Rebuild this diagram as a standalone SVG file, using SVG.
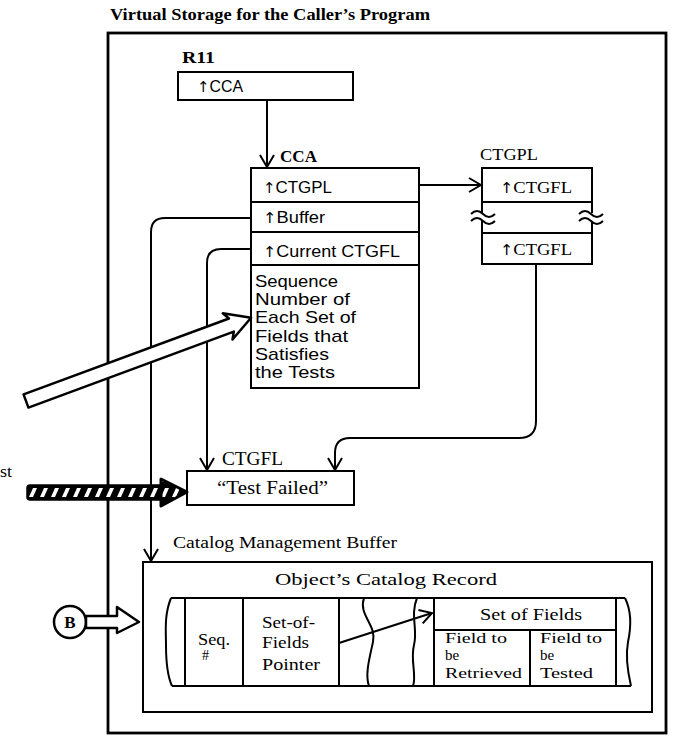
<svg xmlns="http://www.w3.org/2000/svg" width="677" height="738" viewBox="0 0 677 738">
<style>
.box{fill:#fff;stroke:#000;stroke-width:2}
.ln{fill:none;stroke:#000;stroke-width:2}
.serif{font-family:"Liberation Serif","Times New Roman",serif;fill:#000}
.sans{font-family:"Liberation Sans",Arial,sans-serif;fill:#000}
.b{font-weight:bold}
.up{font-family:"DejaVu Sans",sans-serif;font-size:15px}
</style>
<defs>
<marker id="arr" viewBox="0 0 14 16" refX="13" refY="8" markerWidth="14" markerHeight="16" markerUnits="userSpaceOnUse" orient="auto">
<path d="M1,1 L13,8 L1,15" fill="none" stroke="#000" stroke-width="2"/>
</marker>
<pattern id="hatch" patternUnits="userSpaceOnUse" x="27" y="485" width="11" height="15">
<rect width="11" height="15" fill="#000"/>
<polygon points="6,3 10,3 6,12 2,12" fill="#fff"/>
</pattern>
</defs>
<rect width="677" height="738" fill="#fff"/>

<text class="serif b" x="110" y="20" font-size="17.5" textLength="320" lengthAdjust="spacingAndGlyphs">Virtual Storage for the Caller’s Program</text>
<text class="serif" x="0" y="477" font-size="17" textLength="12" lengthAdjust="spacingAndGlyphs">st</text>

<g id="frame"><rect x="108" y="33" width="558" height="700" fill="none" stroke="#000" stroke-width="2.8"/></g>

<g id="connectors">
<path class="ln" d="M267,100 V167" marker-end="url(#arr)"/>
<path class="ln" d="M419,185 H481" marker-end="url(#arr)"/>
<path class="ln" d="M536,264 V421 Q536,438 519,438 H350 Q335,438 335,453 V470" marker-end="url(#arr)"/>
<path class="ln" d="M251,249 H221 Q207,249 207,263 V470" marker-end="url(#arr)"/>
<path class="ln" d="M251,218 H165 Q151,218 151,232 V561" marker-end="url(#arr)"/>
</g>

<g id="R11">
<text class="serif b" x="182" y="63" font-size="16.5" textLength="33" lengthAdjust="spacingAndGlyphs">R11</text>
<rect class="box" x="178" y="72" width="175" height="28"/>
<text class="sans" x="197" y="92" font-size="16" textLength="46" lengthAdjust="spacingAndGlyphs"><tspan class="up">↑</tspan>CCA</text>
</g>

<g id="CCA">
<text class="serif b" x="280" y="162" font-size="16.5" textLength="37" lengthAdjust="spacingAndGlyphs">CCA</text>
<rect class="box" x="251" y="168" width="168" height="220"/>
<path class="ln" d="M251,202 H419 M251,232 H419 M251,265 H419"/>
<text class="sans" x="263" y="193" font-size="17" textLength="69" lengthAdjust="spacingAndGlyphs"><tspan class="up">↑</tspan>CTGPL</text>
<text class="sans" x="263" y="223" font-size="17" textLength="62" lengthAdjust="spacingAndGlyphs"><tspan class="up">↑</tspan>Buffer</text>
<text class="sans" x="263" y="257" font-size="17" textLength="137" lengthAdjust="spacingAndGlyphs"><tspan class="up">↑</tspan>Current CTGFL</text>
<text class="sans" x="255" y="287" font-size="17" textLength="83" lengthAdjust="spacingAndGlyphs">Sequence</text>
<text class="sans" x="255" y="305" font-size="17" textLength="95" lengthAdjust="spacingAndGlyphs">Number of</text>
<text class="sans" x="255" y="323" font-size="17" textLength="101" lengthAdjust="spacingAndGlyphs">Each Set of</text>
<text class="sans" x="255" y="342" font-size="17" textLength="93" lengthAdjust="spacingAndGlyphs">Fields that</text>
<text class="sans" x="255" y="360" font-size="17" textLength="74" lengthAdjust="spacingAndGlyphs">Satisfies</text>
<text class="sans" x="255" y="378" font-size="17" textLength="80" lengthAdjust="spacingAndGlyphs">the Tests</text>
</g>

<g id="CTGPL">
<text class="serif" x="480" y="160" font-size="17.5" textLength="58" lengthAdjust="spacingAndGlyphs">CTGPL</text>
<rect class="box" x="482" y="168" width="110" height="96"/>
<path class="ln" d="M482,202 H592 M482,233 H592"/>
<rect x="478" y="213" width="8" height="8" fill="#fff"/>
<rect x="588" y="213" width="8" height="8" fill="#fff"/>
<path class="ln" d="M471,214 c4,-4 8,-4 12,0 s8,4 12,0 M471,221 c4,-4 8,-4 12,0 s8,4 12,0"/>
<path class="ln" d="M579,214 c4,-4 8,-4 12,0 s8,4 12,0 M579,221 c4,-4 8,-4 12,0 s8,4 12,0"/>
<text class="serif" x="500" y="193" font-size="17.5" textLength="72" lengthAdjust="spacingAndGlyphs"><tspan class="up">↑</tspan>CTGFL</text>
<text class="serif" x="500" y="255" font-size="17.5" textLength="72" lengthAdjust="spacingAndGlyphs"><tspan class="up">↑</tspan>CTGFL</text>
</g>

<g id="input-arrow">
<polygon transform="translate(26,401) rotate(-20.3)" points="0,-7 219,-7 215,-14 240,0 215,14 219,7 0,7" fill="#fff" stroke="#000" stroke-width="2.5" stroke-linejoin="round"/>
</g>

<g id="CTGFL">
<text class="serif" x="222" y="465" font-size="18" textLength="61" lengthAdjust="spacingAndGlyphs">CTGFL</text>
<rect class="box" x="187" y="471" width="167" height="34"/>
<text class="serif" x="217" y="494" font-size="18.5" textLength="111" lengthAdjust="spacingAndGlyphs">“Test Failed”</text>
</g>

<g id="test-arrow">
<rect x="27" y="485" width="136" height="15" rx="3" fill="url(#hatch)" stroke="#000" stroke-width="1.5"/>
<polygon points="161,479 187,492 161,506" fill="url(#hatch)" stroke="#000" stroke-width="3" stroke-linejoin="round"/>
</g>

<g id="buffer">
<text class="serif" x="173" y="548" font-size="16" textLength="224" lengthAdjust="spacingAndGlyphs">Catalog Management Buffer</text>
<rect class="box" x="143" y="562" width="509" height="150"/>
<text class="serif" x="275" y="585" font-size="17.5" textLength="222" lengthAdjust="spacingAndGlyphs">Object’s Catalog Record</text>
</g>

<g id="record">
<path class="ln" d="M171,598 H625 M172,686 H631"/>
<path class="ln" d="M171,598 C164,615 166,632 166,645 C166,660 167,675 172,686"/>
<path class="ln" d="M625,598 C632,612 631,628 628,642 C625,658 628,673 631,686"/>
<path class="ln" d="M185,598 V686 M243,598 V686 M339,598 V686"/>
<path class="ln" d="M364,598 C358,615 377,625 373,642 C369,660 365,675 369,686"/>
<path class="ln" d="M417,598 C410,615 418,630 414,645 C410,660 417,675 413,686"/>
<path class="ln" d="M434,598 V686 M616,598 V686 M434,630 H616 M530,630 V686"/>
<text class="serif" x="198" y="645" font-size="17" textLength="32" lengthAdjust="spacingAndGlyphs">Seq.</text>
<text class="serif" x="202" y="660" font-size="14">#</text>
<text class="serif" x="262" y="628" font-size="17" textLength="53" lengthAdjust="spacingAndGlyphs">Set-of-</text>
<text class="serif" x="262" y="648" font-size="17" textLength="47" lengthAdjust="spacingAndGlyphs">Fields</text>
<text class="serif" x="262" y="670" font-size="17" textLength="58" lengthAdjust="spacingAndGlyphs">Pointer</text>
<path class="ln" d="M339,643 L432,613" marker-end="url(#arr)"/>
<text class="serif" x="480" y="620" font-size="17" textLength="102" lengthAdjust="spacingAndGlyphs">Set of Fields</text>
<text class="serif" x="445" y="643" font-size="15" textLength="62" lengthAdjust="spacingAndGlyphs">Field to</text>
<text class="serif" x="445" y="660" font-size="15">be</text>
<text class="serif" x="445" y="678" font-size="15" textLength="77" lengthAdjust="spacingAndGlyphs">Retrieved</text>
<text class="serif" x="540" y="643" font-size="15" textLength="62" lengthAdjust="spacingAndGlyphs">Field to</text>
<text class="serif" x="540" y="660" font-size="15">be</text>
<text class="serif" x="540" y="678" font-size="15" textLength="53" lengthAdjust="spacingAndGlyphs">Tested</text>
</g>

<g id="B">
<circle cx="70" cy="622" r="16" fill="#fff" stroke="#000" stroke-width="2.5"/>
<text class="serif b" x="70" y="628" font-size="17" text-anchor="middle">B</text>
<polygon points="86,616 117,616 117,607 139,622 117,633 117,628 86,628" fill="#fff" stroke="#000" stroke-width="2.5" stroke-linejoin="round"/>
</g>
</svg>
